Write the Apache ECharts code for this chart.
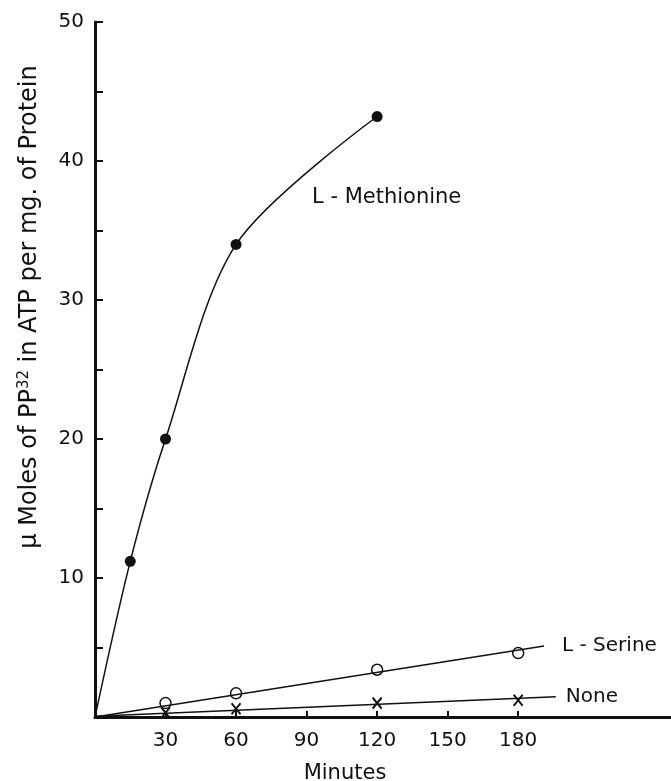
<!DOCTYPE html>
<html>
<head>
<meta charset="utf-8">
<script src="https://cdn.jsdelivr.net/npm/echarts@6/dist/echarts.min.js"></script>
<style>
  html, body { margin: 0; padding: 0; background: #fff; }
</style>
</head>
<body>
<div id="main" style="width:671px;height:781px"></div>
<script>
// (minutes, µmoles)
var methionine = [[0, 0], [15, 11.2], [30, 20], [60, 34], [120, 43.2]];
var serinePoints = [[30, 1.0], [60, 1.7], [120, 3.4], [180, 4.6]];
var serineLine = [[0, 0], [191, 5.1]];
var nonePoints = [[30, 0.3], [60, 0.6], [120, 1.0], [180, 1.2]];
var noneLine = [[0, 0.05], [196, 1.45]];
var xTicks = [30, 60, 90, 120, 150, 180];
var yTicks = [5, 10, 15, 20, 25, 30, 35, 40, 45, 50];
var yLabels = [10, 20, 30, 40, 50];

var font = "DejaVu Sans";
var myChart = echarts.init(document.getElementById("main"));
var option = {
  animation: false,
  textStyle: { fontFamily: font, color: "#111" },
  grid: { left: 95, top: 22, right: 0, bottom: 64, outerBoundsMode: "none" },
  xAxis: {
    type: "value",
    min: 0,
    max: 245,
    name: "Minutes",
    nameLocation: "middle",
    nameGap: 46,
    nameTextStyle: { fontSize: 21, fontFamily: font, color: "#111", padding: [0, 76, 0, 0] },
    axisLine: { lineStyle: { color: "#111", width: 3 } },
    axisTick: { inside: true, length: 6, lineStyle: { width: 2, color: "#111" }, customValues: xTicks },
    axisLabel: { fontSize: 20, color: "#111", margin: 14, customValues: xTicks },
    splitLine: { show: false }
  },
  yAxis: {
    type: "value",
    min: 0,
    max: 50,
    axisLine: { lineStyle: { color: "#111", width: 3 } },
    axisTick: { inside: true, length: 8, lineStyle: { width: 2, color: "#111" }, customValues: yTicks },
    axisLabel: { fontSize: 20, color: "#111", margin: 11, customValues: yLabels },
    splitLine: { show: false }
  },
  graphic: [
    {
      type: "text",
      x: 30,
      y: 307,
      rotation: Math.PI / 2,
      style: {
        text: "μ Moles of PP{sup|32} in ATP per mg. of Protein",
        font: "24px " + font,
        fill: "#111",
        align: "center",
        verticalAlign: "middle",
        rich: { sup: { fontSize: 15, fontFamily: font, verticalAlign: "top", padding: [0, 0, 12, 0] } }
      }
    },
    {
      type: "text",
      x: 312,
      y: 198,
      style: { text: "L - Methionine", font: "21px " + font, fill: "#111", verticalAlign: "middle" }
    }
  ],
  series: [
    {
      type: "line",
      data: methionine.map(function (p, i) { return i === 0 ? { value: p, symbol: "none" } : p; }),
      smooth: 0.3,
      symbol: "circle",
      symbolSize: 11,
      showSymbol: true,
      lineStyle: { color: "#111", width: 1.5 },
      itemStyle: { color: "#111" }
    },
    {
      type: "line",
      data: serineLine,
      showSymbol: false,
      lineStyle: { color: "#111", width: 1.5 },
      endLabel: { show: true, formatter: "L - Serine", fontSize: 20, fontFamily: font, color: "#111", distance: 18 }
    },
    {
      type: "scatter",
      data: serinePoints,
      symbol: "circle",
      symbolSize: 11,
      itemStyle: { color: "#fff", borderColor: "#111", borderWidth: 1.5, opacity: 1 }
    },
    {
      type: "line",
      data: noneLine,
      showSymbol: false,
      lineStyle: { color: "#111", width: 1.5 },
      endLabel: { show: true, formatter: "None", fontSize: 20, fontFamily: font, color: "#111", distance: 10 }
    },
    {
      type: "scatter",
      data: nonePoints,
      symbol: "path://M0,0L10,12M10,0L0,12",
      symbolSize: [9, 11],
      itemStyle: { color: "none", borderColor: "#111", borderWidth: 2, opacity: 1 }
    }
  ]
};
myChart.setOption(option);
</script>
</body>
</html>
